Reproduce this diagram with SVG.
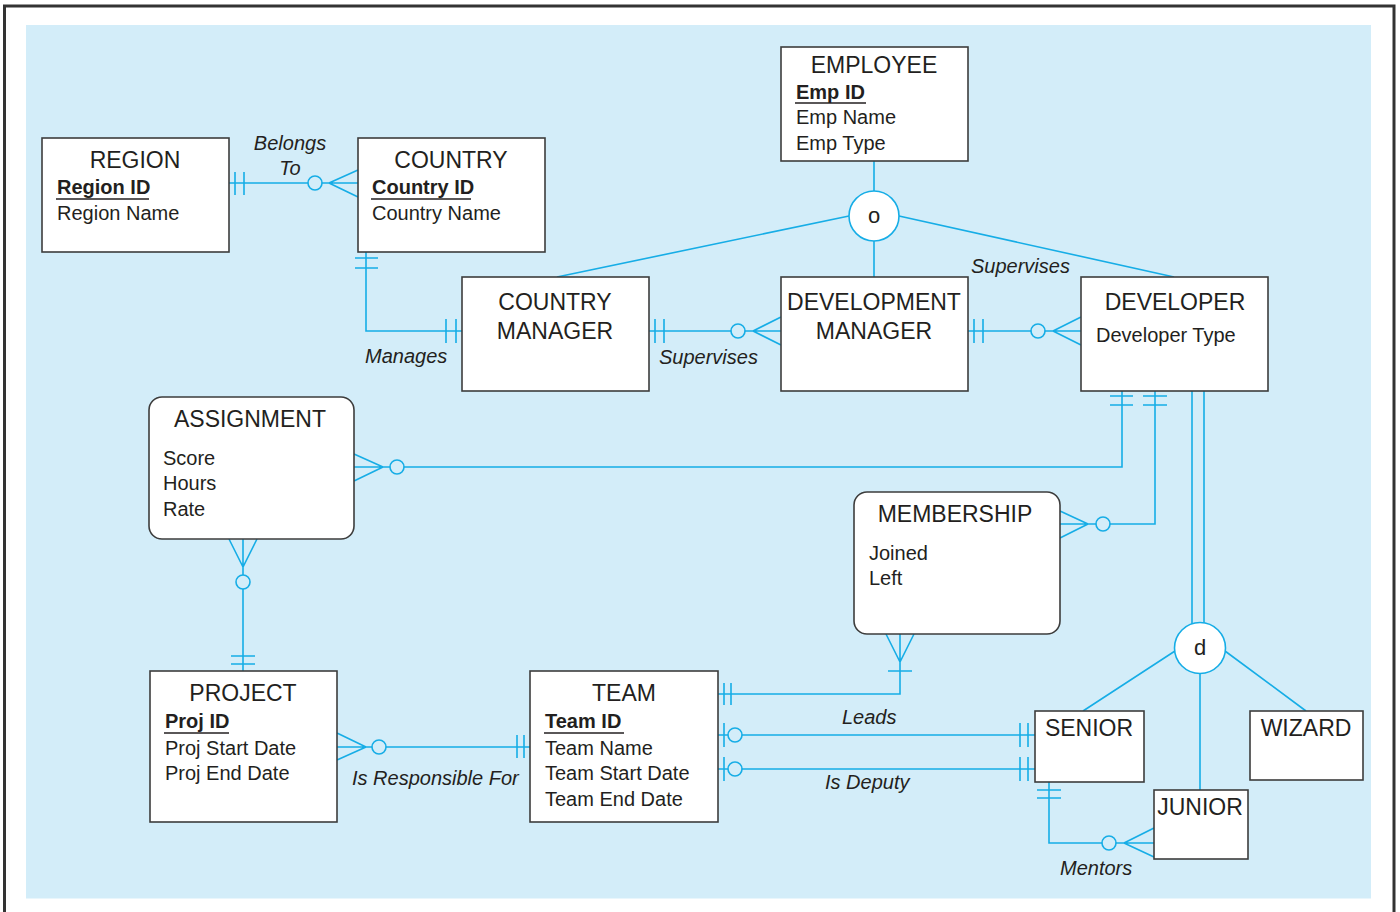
<svg xmlns="http://www.w3.org/2000/svg" width="1400" height="912" viewBox="0 0 1400 912">
<defs>
<style>
.frame{fill:#fff;stroke:#333;stroke-width:3}
.panel{fill:#d3edf9}
.box{fill:#fff;stroke:#3d3d3d;stroke-width:1.6}
.ln{fill:none;stroke:#16ade6;stroke-width:1.6}
.cir{fill:#d3edf9;stroke:#16ade6;stroke-width:1.6}
.gen{fill:#fff;stroke:#16ade6;stroke-width:1.6}
text{font-family:"Liberation Sans",Arial,Helvetica,sans-serif;fill:#231f20}
.t{font-size:23px;text-anchor:middle}
.a{font-size:20px}
.k{font-size:20px;font-weight:bold}
.ul{stroke:#231f20;stroke-width:1.6}
.lbl{font-size:20px;font-style:italic}
.sym{font-size:22px;text-anchor:middle}
</style>
</defs>
<rect class="frame" x="4.5" y="6" width="1389.5" height="920"/>
<rect class="panel" x="26" y="25" width="1345" height="873.5"/>

<g id="connectors">
  <!-- Belongs To -->
  <path class="ln" d="M229,183 H358 M235,172 V195 M244,172 V195 M329,183 L358,170 M329,183 L358,197"/>
  <circle class="cir" cx="315" cy="183" r="7"/>
  <!-- Manages -->
  <path class="ln" d="M366,252 V331 H462 M355,258 H378 M355,268 H378 M446,319 V343 M456,319 V343"/>
  <!-- CM - DM Supervises -->
  <path class="ln" d="M649,331 H781 M655,319 V343 M664,319 V343 M753,331 L781,317 M753,331 L781,345"/>
  <circle class="cir" cx="738" cy="331" r="7"/>
  <!-- DM - DEV -->
  <path class="ln" d="M968,331 H1081 M974,319 V343 M983,319 V343 M1053,331 L1081,317 M1053,331 L1081,345"/>
  <circle class="cir" cx="1038" cy="331" r="7"/>
  <!-- DEV - ASSIGNMENT -->
  <path class="ln" d="M1122,391 V467 H354 M1110,396 H1133 M1110,405 H1133 M383,467 L354,454 M383,467 L354,481"/>
  <circle class="cir" cx="397" cy="467" r="7"/>
  <!-- DEV - MEMBERSHIP -->
  <path class="ln" d="M1155,391 V524 H1060 M1143,396 H1167 M1143,405 H1167 M1088,524 L1060,511 M1088,524 L1060,538"/>
  <circle class="cir" cx="1103" cy="524" r="7"/>
  <!-- ASSIGNMENT - PROJECT -->
  <path class="ln" d="M243,539 V671 M229,539 L243,567 L257,539 M231,656 H255 M231,664 H255"/>
  <circle class="cir" cx="243" cy="582" r="7"/>
  <!-- Is Responsible For -->
  <path class="ln" d="M337,747 H530 M366,747 L337,733 M366,747 L337,760 M517,735 V758 M524,735 V758"/>
  <circle class="cir" cx="379" cy="747" r="7"/>
  <!-- MEMBERSHIP - TEAM -->
  <path class="ln" d="M900,634 V694 H718 M886,634 L900,662 L914,634 M888,671 H912 M724,683 V705 M731,683 V705"/>
  <!-- Leads -->
  <path class="ln" d="M718,735 H1035 M724,723 V747 M1020,723 V747 M1028,723 V747"/>
  <circle class="cir" cx="735" cy="735" r="7"/>
  <!-- Is Deputy -->
  <path class="ln" d="M718,769 H1035 M724,757 V781 M1020,757 V781 M1028,757 V781"/>
  <circle class="cir" cx="735" cy="769" r="7"/>
  <!-- Mentors -->
  <path class="ln" d="M1049,782 V843 H1154 M1037,790 H1061 M1037,798 H1061 M1124,843 L1154,828 M1124,843 L1154,857"/>
  <circle class="cir" cx="1109" cy="843" r="7"/>
  <!-- Overlapping generalization (o) -->
  <path class="ln" d="M874,161 V191 M874,241 V277 M849,216 L557,277 M899,216 L1174,277"/>
  <!-- Disjoint generalization (d) -->
  <path class="ln" d="M1192,391 V624 M1204,391 V623 M1175,651 L1083,711 M1225,651 L1306,711 M1200,674 V790"/>
  <!-- Labels -->
  <text class="lbl" x="290" y="150" text-anchor="middle">Belongs</text>
  <text class="lbl" x="290" y="175" text-anchor="middle">To</text>
  <text class="lbl" x="365" y="363">Manages</text>
  <text class="lbl" x="659" y="364">Supervises</text>
  <text class="lbl" x="971" y="273">Supervises</text>
  <text class="lbl" x="352" y="785">Is Responsible For</text>
  <text class="lbl" x="842" y="724">Leads</text>
  <text class="lbl" x="825" y="789">Is Deputy</text>
  <text class="lbl" x="1060" y="875">Mentors</text>
</g>

<g id="gen-o">
  <circle class="gen" cx="874" cy="216" r="25"/>
  <text class="sym" x="874" y="223">o</text>
</g>
<g id="gen-d">
  <circle class="gen" cx="1200" cy="648" r="25.5"/>
  <text class="sym" x="1200" y="655">d</text>
</g>

<g id="region">
  <rect class="box" x="42" y="138" width="187" height="114"/>
  <text class="t" x="135" y="168">REGION</text>
  <text class="k" x="57" y="194">Region ID</text>
  <line class="ul" x1="56" y1="199" x2="149" y2="199"/>
  <text class="a" x="57" y="220">Region Name</text>
</g>
<g id="country">
  <rect class="box" x="358" y="138" width="187" height="114"/>
  <text class="t" x="451" y="168">COUNTRY</text>
  <text class="k" x="372" y="194">Country ID</text>
  <line class="ul" x1="371" y1="199" x2="471" y2="199"/>
  <text class="a" x="372" y="220">Country Name</text>
</g>
<g id="employee">
  <rect class="box" x="781" y="47" width="187" height="114"/>
  <text class="t" x="874" y="73">EMPLOYEE</text>
  <text class="k" x="796" y="99">Emp ID</text>
  <line class="ul" x1="795" y1="103" x2="866" y2="103"/>
  <text class="a" x="796" y="124">Emp Name</text>
  <text class="a" x="796" y="150">Emp Type</text>
</g>
<g id="country-manager">
  <rect class="box" x="462" y="277" width="187" height="114"/>
  <text class="t" x="555" y="310">COUNTRY</text>
  <text class="t" x="555" y="339">MANAGER</text>
</g>
<g id="development-manager">
  <rect class="box" x="781" y="277" width="187" height="114"/>
  <text class="t" x="874" y="310">DEVELOPMENT</text>
  <text class="t" x="874" y="339">MANAGER</text>
</g>
<g id="developer">
  <rect class="box" x="1081" y="277" width="187" height="114"/>
  <text class="t" x="1175" y="310">DEVELOPER</text>
  <text class="a" x="1096" y="342">Developer Type</text>
</g>
<g id="assignment">
  <rect class="box" x="149" y="397" width="205" height="142" rx="13"/>
  <text class="t" x="250" y="427">ASSIGNMENT</text>
  <text class="a" x="163" y="465">Score</text>
  <text class="a" x="163" y="490">Hours</text>
  <text class="a" x="163" y="516">Rate</text>
</g>
<g id="membership">
  <rect class="box" x="854" y="492" width="206" height="142" rx="13"/>
  <text class="t" x="955" y="522">MEMBERSHIP</text>
  <text class="a" x="869" y="560">Joined</text>
  <text class="a" x="869" y="585">Left</text>
</g>
<g id="project">
  <rect class="box" x="150" y="671" width="187" height="151"/>
  <text class="t" x="243" y="701">PROJECT</text>
  <text class="k" x="165" y="728">Proj ID</text>
  <line class="ul" x1="164" y1="733" x2="229" y2="733"/>
  <text class="a" x="165" y="755">Proj Start Date</text>
  <text class="a" x="165" y="780">Proj End Date</text>
</g>
<g id="team">
  <rect class="box" x="530" y="671" width="188" height="151"/>
  <text class="t" x="624" y="701">TEAM</text>
  <text class="k" x="545" y="728">Team ID</text>
  <line class="ul" x1="544" y1="733" x2="624" y2="733"/>
  <text class="a" x="545" y="755">Team Name</text>
  <text class="a" x="545" y="780">Team Start Date</text>
  <text class="a" x="545" y="806">Team End Date</text>
</g>
<g id="senior">
  <rect class="box" x="1035" y="711" width="109" height="71"/>
  <text class="t" x="1089" y="736">SENIOR</text>
</g>
<g id="wizard">
  <rect class="box" x="1250" y="711" width="113" height="69"/>
  <text class="t" x="1306" y="736">WIZARD</text>
</g>
<g id="junior">
  <rect class="box" x="1154" y="790" width="94" height="69"/>
  <text class="t" x="1200" y="815">JUNIOR</text>
</g>
</svg>
